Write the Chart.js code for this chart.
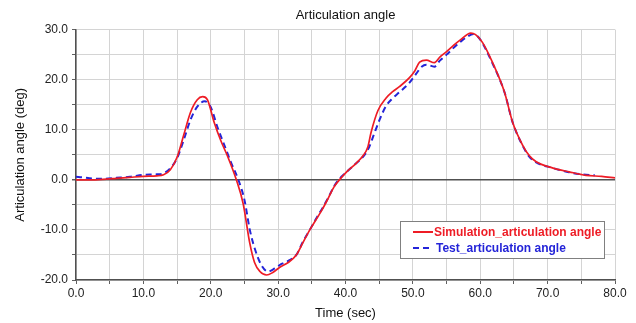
<!DOCTYPE html>
<html>
<head>
<meta charset="utf-8">
<title>Articulation angle</title>
<script src="https://cdn.jsdelivr.net/npm/chart.js@4/dist/chart.umd.min.js"></script>
<style>
    body { margin: 0; background: #fff; }
    #angleChart { display: block; }
</style>
</head>
<body>
<canvas id="angleChart" width="636" height="323"></canvas>
<script>
// simulation run
const simTime = [0, 2, 4, 6, 8, 10, 12, 13, 14, 15, 16, 17, 18, 18.8, 19.5, 20.5, 21.5, 22.5, 23.8,
    24.8, 25.8, 26.5, 27.3, 28.3, 29.2, 30.2, 31.5, 32.7, 33.7, 34.7, 35.7, 36.6, 37.5, 38.3, 39.1,
    40.1, 41.5, 42.6, 43.3, 43.8, 44.8, 46, 47, 48, 49.5, 50.3, 51, 52, 53.2, 54, 55, 56, 57, 58.6,
    59.3, 60.3, 61.8, 63.6, 64.8, 66.3, 67.3, 68.3, 70.7, 73.2, 75.7, 78, 80];
const simAngle = [0.0, 0.0, 0.1, 0.3, 0.5, 0.7, 0.8, 1.0, 2.0, 4.5, 9.0, 13.5, 16.0, 16.6, 16.0, 11.5, 7.8, 4.7, 0.0,
    -4.7, -12.7, -16.5, -18.3, -19.0, -18.5, -17.5, -16.5, -15.0, -12.5, -10.0, -7.8, -5.8, -3.5, -1.4, 0.0,
    1.5, 3.2, 4.8, 6.5, 9.5, 13.8, 16.3, 17.6, 18.6, 20.4, 21.8, 23.5, 23.9, 23.4, 24.5, 25.6, 26.8, 27.9, 29.3,
    29.0, 27.5, 23.5, 17.5, 11.5, 6.9, 4.8, 3.6, 2.4, 1.6, 0.9, 0.7, 0.4];

// test measurement
const testTime = [0, 1, 2, 4, 6, 8, 10, 12, 13, 14, 15, 16, 17, 18, 19.1, 20, 21, 22, 23, 24.1,
    25, 25.8, 26.6, 27.5, 28.5, 29.5, 30.5, 31.5, 32.7, 33.7, 34.7, 35.7, 36.6, 37.5, 38.3, 39.1,
    40.1, 41.5, 42.6, 43.5, 44.2, 45, 46, 47, 48, 49.5, 50.5, 51.3, 52, 53.2, 54, 55, 56, 57, 58.2,
    59, 60, 61.8, 63.6, 64.8, 66.3, 67.3, 68.3, 70.7, 73.2, 75, 77];
const testAngle = [0.6, 0.5, 0.3, 0.2, 0.4, 0.6, 1.0, 1.1, 1.3, 2.3, 4.3, 8.0, 12.0, 14.6, 15.7, 14.5, 10.5, 7.0, 3.5, 0.0,
    -4.0, -10.0, -14.0, -17.0, -18.3, -17.7, -16.8, -16.2, -15.0, -12.3, -10.0, -7.6, -5.6, -3.4, -1.3, 0.2,
    1.5, 3.2, 4.6, 6.5, 9.0, 11.8, 14.7, 16.3, 17.5, 19.4, 21.2, 22.6, 23.0, 22.6, 23.8, 25.0, 26.3, 27.5, 28.7,
    29.1, 28.0, 23.3, 17.5, 11.5, 6.8, 4.6, 3.5, 2.4, 1.5, 1.1, 0.9];

const seriesNames = ['Simulation_articulation angle', 'Test_articulation angle'];
const seriesColors = ['#ee1c25', '#2424d8'];

const toPoints = (xs, ys) => xs.map((x, i) => ({ x: x, y: ys[i] }));

const fontFamily = '"Liberation Sans", Arial, sans-serif';

// legend box drawn inside the plot, lower right
const insideLegend = {
    id: 'insideLegend',
    afterDraw(chart) {
        const ctx = chart.ctx;
        const area = chart.chartArea;
        const w = 204, h = 37;
        const x = area.right - 11 - w;
        const y = area.bottom - 22 - h;

        ctx.save();
        ctx.fillStyle = '#fff';
        ctx.fillRect(x, y, w, h);
        ctx.strokeStyle = '#808080';
        ctx.lineWidth = 1;
        ctx.strokeRect(x + 0.5, y + 0.5, w, h);

        chart.data.datasets.forEach((ds, i) => {
            const rowY = y + 11 + i * 16;
            ctx.strokeStyle = ds.borderColor;
            ctx.lineWidth = 2;
            ctx.setLineDash(ds.borderDash || []);
            ctx.beginPath();
            ctx.moveTo(x + 13, rowY);
            ctx.lineTo(x + 33, rowY);
            ctx.stroke();
            ctx.setLineDash([]);

            ctx.fillStyle = ds.borderColor;
            ctx.font = 'bold 12px ' + fontFamily;
            ctx.textBaseline = 'middle';
            ctx.fillText(ds.label, x + 34 + i * 2, rowY + 1);
        });
        ctx.restore();
    }
};

const gridColor = (c) => c.tick && c.tick.value === 0 ? '#505050' : '#d4d4d4';
const gridWidth = (c) => c.tick && c.tick.value === 0 ? 1.5 : 1;
const tenthLabel = (value) => value % 10 === 0 ? Number(value).toFixed(1) : '';

new Chart(document.getElementById('angleChart'), {
    type: 'line',
    data: {
        datasets: [{
            label: seriesNames[0],
            data: toPoints(simTime, simAngle),
            borderColor: seriesColors[0],
            borderWidth: 1.7,
            pointRadius: 0,
            cubicInterpolationMode: 'monotone'
        }, {
            label: seriesNames[1],
            data: toPoints(testTime, testAngle),
            borderColor: seriesColors[1],
            borderWidth: 2,
            borderDash: [6, 4],
            pointRadius: 0,
            cubicInterpolationMode: 'monotone'
        }]
    },
    options: {
        responsive: false,
        animation: false,
        layout: {
            padding: { left: 0, right: 21, top: 0, bottom: 0 }
        },
        plugins: {
            legend: { display: false },
            tooltip: { enabled: false },
            title: {
                display: true,
                text: 'Articulation angle',
                fullSize: false,
                color: '#111',
                font: { family: fontFamily, size: 13, weight: 'normal' },
                padding: { top: 8, bottom: 6 }
            }
        },
        scales: {
            x: {
                type: 'linear',
                min: 0,
                max: 80,
                afterFit: (scale) => { scale.height = 43; },
                ticks: {
                    stepSize: 5,
                    autoSkip: false,
                    maxRotation: 0,
                    color: '#222',
                    padding: 2,
                    font: { family: fontFamily, size: 12 },
                    callback: tenthLabel
                },
                grid: {
                    color: '#d4d4d4',
                    tickLength: 4,
                    tickColor: '#606060'
                },
                border: { color: '#505050', width: 1.5 },
                title: {
                    display: true,
                    text: 'Time (sec)',
                    color: '#111',
                    font: { family: fontFamily, size: 13 },
                    padding: { top: 2, bottom: 2 }
                }
            },
            y: {
                min: -20,
                max: 30,
                afterFit: (scale) => { scale.width = 76; },
                ticks: {
                    stepSize: 5,
                    autoSkip: false,
                    color: '#222',
                    padding: 4,
                    font: { family: fontFamily, size: 12 },
                    callback: tenthLabel
                },
                grid: {
                    color: gridColor,
                    lineWidth: gridWidth,
                    tickLength: 4,
                    tickColor: '#606060'
                },
                border: { color: '#505050', width: 1.5 },
                title: {
                    display: true,
                    text: 'Articulation angle (deg)',
                    color: '#111',
                    font: { family: fontFamily, size: 13 },
                    padding: { top: 13, bottom: 4 }
                }
            }
        }
    },
    plugins: [insideLegend]
});
</script>
</body>
</html>
